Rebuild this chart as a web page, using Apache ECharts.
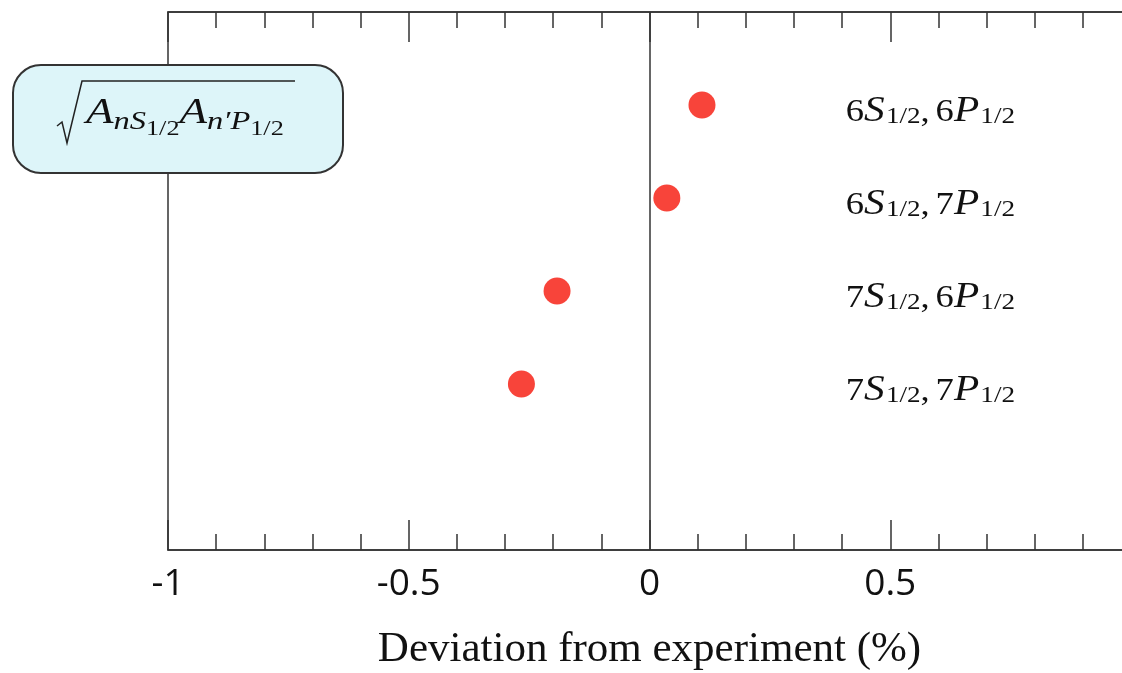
<!DOCTYPE html>
<html>
<head>
<meta charset="utf-8">
<script src="https://cdn.jsdelivr.net/npm/echarts@6/dist/echarts.min.js"></script>
<style>
  html, body { margin: 0; padding: 0; background: #fff; overflow: hidden; }
  #chart { width: 1122px; height: 673px; }
</style>
</head>
<body>
<div id="chart"></div>
<script>
// transition pairs (n of S1/2, n' of P1/2) and deviation from experiment in %
const sLevels = ['6', '6', '7', '7']
const pLevels = ['6', '7', '6', '7']
const deviations = [0.109, 0.036, -0.192, -0.266]
const xRange = [-1, 1]
const xStep = 0.5

const ink = '#333'
const dotColor = '#f8443a'
const serif = '"Liberation Serif", "Times New Roman", serif'

// row label: "6S1/2, 6P1/2" with subscripts
const rowText = i => `{n|${sLevels[i]}}{it|S}{s|1/2}{c|,}{n|${pLevels[i]}}{it|P}{s|1/2}`

const labelRich = {
  n: { fontFamily: serif, fontSize: 31, lineHeight: 31, padding: [3, 0, 0, 0], verticalAlign: 'top', fill: '#111' },
  c: { fontFamily: serif, fontSize: 31, lineHeight: 31, padding: [3, 5, 0, 0], verticalAlign: 'top', fill: '#111' },
  it: { fontFamily: serif, fontSize: 35, fontStyle: 'italic', lineHeight: 35, padding: [0, 1, 0, 0], verticalAlign: 'top', fill: '#111' },
  s: { fontFamily: serif, fontSize: 23, lineHeight: 23, padding: [11, 0, 0, 0], verticalAlign: 'top', fill: '#111' },
}

const tickStyle = { color: ink, width: 1.5 }

const chart = echarts.init(document.getElementById('chart'))
chart.setOption({
  animation: false,
  // the plot's right edge (x = 1) sits just past the window, as in the source figure
  grid: {
    left: 168, right: -9, top: 12, bottom: 123,
    outerBoundsMode: 'none',
    show: true, borderColor: ink, borderWidth: 1.5, backgroundColor: 'transparent',
  },
  xAxis: [
    {
      type: 'value', min: xRange[0], max: xRange[1], interval: xStep, position: 'bottom',
      axisLine: { show: true, onZero: false, lineStyle: tickStyle },
      axisTick: { show: true, inside: true, length: 30, lineStyle: tickStyle },
      minorTick: { show: true, splitNumber: 5, length: 16, lineStyle: tickStyle },
      splitLine: { show: false },
      axisLabel: {
        margin: 16, fontSize: 37, color: '#111', fontFamily: '"Open Sans", sans-serif',
        showMaxLabel: false,
      },
      name: 'Deviation from experiment (%)',
      nameLocation: 'middle',
      nameGap: 78,
      nameTextStyle: { fontFamily: serif, fontSize: 43, color: '#111' },
    },
    {
      type: 'value', min: xRange[0], max: xRange[1], interval: xStep, position: 'top',
      axisLine: { show: true, onZero: false, lineStyle: tickStyle },
      axisTick: { show: true, inside: true, length: 30, lineStyle: tickStyle },
      minorTick: { show: true, splitNumber: 5, length: 16, lineStyle: tickStyle },
      splitLine: { show: false },
      axisLabel: { show: false },
    },
  ],
  yAxis: {
    type: 'value', min: 0, max: 5.785, interval: 1, inverse: true,
    axisLine: { show: false, onZero: false },
    axisTick: { show: false },
    splitLine: { show: false },
    axisLabel: { show: false },
  },
  series: [
    {
      type: 'scatter',
      xAxisIndex: 0,
      symbolSize: 27,
      itemStyle: { color: dotColor, opacity: 1 },
      data: deviations.map((d, i) => [d, i + 1]),
      markLine: {
        silent: true,
        symbol: 'none',
        label: { show: false },
        lineStyle: { color: ink, width: 1.5, type: 'solid' },
        data: [{ xAxis: 0 }],
      },
    },
    {
      // row labels, right-aligned near the plot's right edge, one per y row
      type: 'custom',
      xAxisIndex: 0,
      silent: true,
      data: sLevels.map((s, i) => [i, i + 1]),
      renderItem: (params, api) => {
        const y = api.coord([0, api.value(1)])[1]
        const right = params.coordSys.x + params.coordSys.width - 116
        return {
          type: 'text', x: right, y: y, scaleX: 1.18,
          style: {
            text: rowText(api.value(0)),
            align: 'right', verticalAlign: 'middle',
            padding: [14, 0, 0, 0],
            rich: labelRich,
          },
        }
      },
    },
  ],
  graphic: [
    {
      type: 'rect', z: 100,
      shape: { x: 13, y: 65, width: 330, height: 108, r: 28 },
      style: { fill: '#ddf5f9', stroke: ink, lineWidth: 2 },
    },
    {
      type: 'polyline', z: 101,
      shape: { points: [[57, 126], [62, 122], [67, 143], [82, 81], [295, 81]] },
      style: { stroke: '#222', lineWidth: 1.5, fill: null },
    },
    {
      type: 'text', z: 101, x: 86, y: 96, scaleX: 1.25,
      style: {
        text: '{A|A}{sub|nS}{ss|1/2}{A|A}{sub|n′P}{ss|1/2}',
        align: 'left', verticalAlign: 'top',
        rich: {
          A: { fontFamily: serif, fontStyle: 'italic', fontSize: 36, lineHeight: 36, verticalAlign: 'top', fill: '#111' },
          sub: { fontFamily: serif, fontStyle: 'italic', fontSize: 26, lineHeight: 26, padding: [13, 0, 0, 0], verticalAlign: 'top', fill: '#111' },
          ss: { fontFamily: serif, fontSize: 21, lineHeight: 21, padding: [23, 0, 0, 0], verticalAlign: 'top', fill: '#111' },
        },
      },
    },
  ],
})
</script>
</body>
</html>
